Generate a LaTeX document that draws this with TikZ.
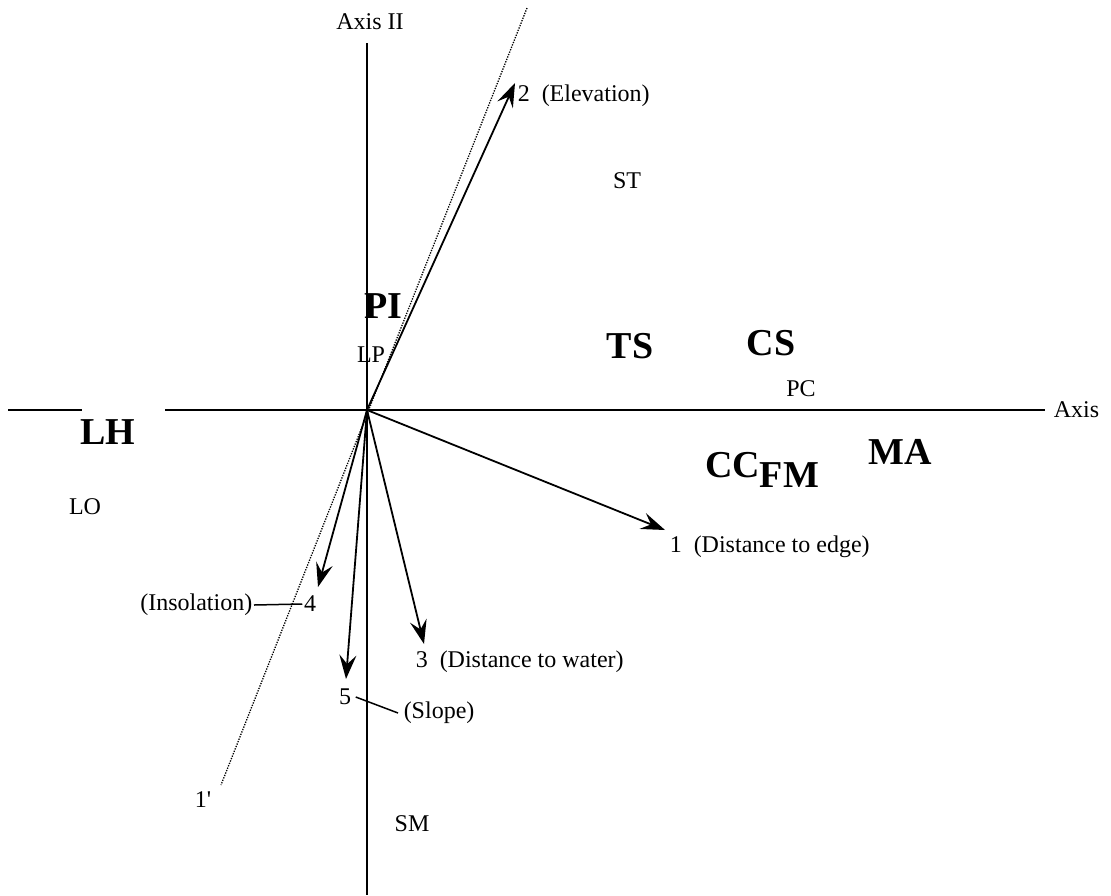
\documentclass[tikz,border=0pt]{standalone}
\usepackage{fontspec}
\setmainfont{Liberation Serif}
\usetikzlibrary{arrows.meta,positioning}

\tikzset{
  lbl/.style={font=\fontsize{24}{26}\selectfont, inner sep=1pt},
  big/.style={font=\fontsize{38}{40}\selectfont\bfseries, inner sep=1pt},
  vec/.style={-{Stealth[length=24pt,width=17pt,inset=9pt]}, line width=1.8pt},
}

\begin{document}
\begin{tikzpicture}[x=1pt,y=-1pt,line width=1.5pt]
    \useasboundingbox (0,0) rectangle (1111,895);
    \coordinate (o) at (367,410);

    % axes
    \node[lbl] (ax2) at (370,22) {Axis II};
    \node[lbl, anchor=west] (ax1) at (1052,410) {Axis};
    \coordinate (vtop) at (367,43);
    \coordinate (vbot) at (367,895);
    \coordinate (h1) at (8,410);
    \coordinate (h2) at (82,410);
    \coordinate (h3) at (165,410);
    \draw (vtop) -- (vbot);
    \draw (h1) -- (h2);
    \draw (h3) -- ([xshift=-7pt]ax1.west);

    % rotated axis
    \coordinate (d1) at (527,8);
    \coordinate (d2) at (221,785);
    \node[lbl] (r1) at (203,800) {1\textquotesingle};
    \draw[dash pattern=on 1.3pt off 1.3pt, line width=1.3pt] (d1) -- (d2);

    % vectors
    \coordinate (t1) at (665,530);
    \coordinate (t2) at (515,83);
    \coordinate (t3) at (424,644);
    \coordinate (t4) at (318,587);
    \coordinate (t5) at (346,679);
    \draw[vec] (o) -- (t1);
    \draw[vec] (o) -- (t2);
    \draw[vec] (o) -- (t3);
    \draw[vec] (o) -- (t4);
    \draw[vec] (o) -- (t5);

    \node[lbl, anchor=west] (v1) at (668,547) {1\enspace(Distance to edge)};
    \node[lbl, anchor=west] (v2) at (516,96) {2\enspace(Elevation)};
    \node[lbl, anchor=west] (v3) at (414,662) {3\enspace(Distance to water)};
    \node[lbl] (v4) at (310,604) {4};
    \node[lbl, anchor=east] (ins) at (254,605) {(Insolation)};
    \node[lbl] (v5) at (345,697) {5};
    \node[lbl, anchor=west] (slp) at (402,713) {(Slope)};
    \draw (ins.east) -- (v4.west);
    \draw ([xshift=3pt]v5.east) -- ([xshift=-4pt]slp.west);

    % stands
    \node[lbl] (st) at (627,181) {ST};
    \node[big] (pi) at (383,306) {PI};
    \node[lbl] (lp) at (371,355) {LP};
    \node[big] (ts) at (630,346) {TS};
    \node[big] (cs) at (771,343) {CS};
    \node[lbl] (pc) at (801,389) {PC};
    \node[big] (lh) at (108,432) {LH};
    \node[lbl] (lo) at (85,507) {LO};
    \node[big] (ma) at (900,452) {MA};
    \node[big] (cc) at (762,470) {CC\raisebox{-10pt}{FM}};
    \node[lbl] (sm) at (412,824) {SM};
\end{tikzpicture}
\end{document}
